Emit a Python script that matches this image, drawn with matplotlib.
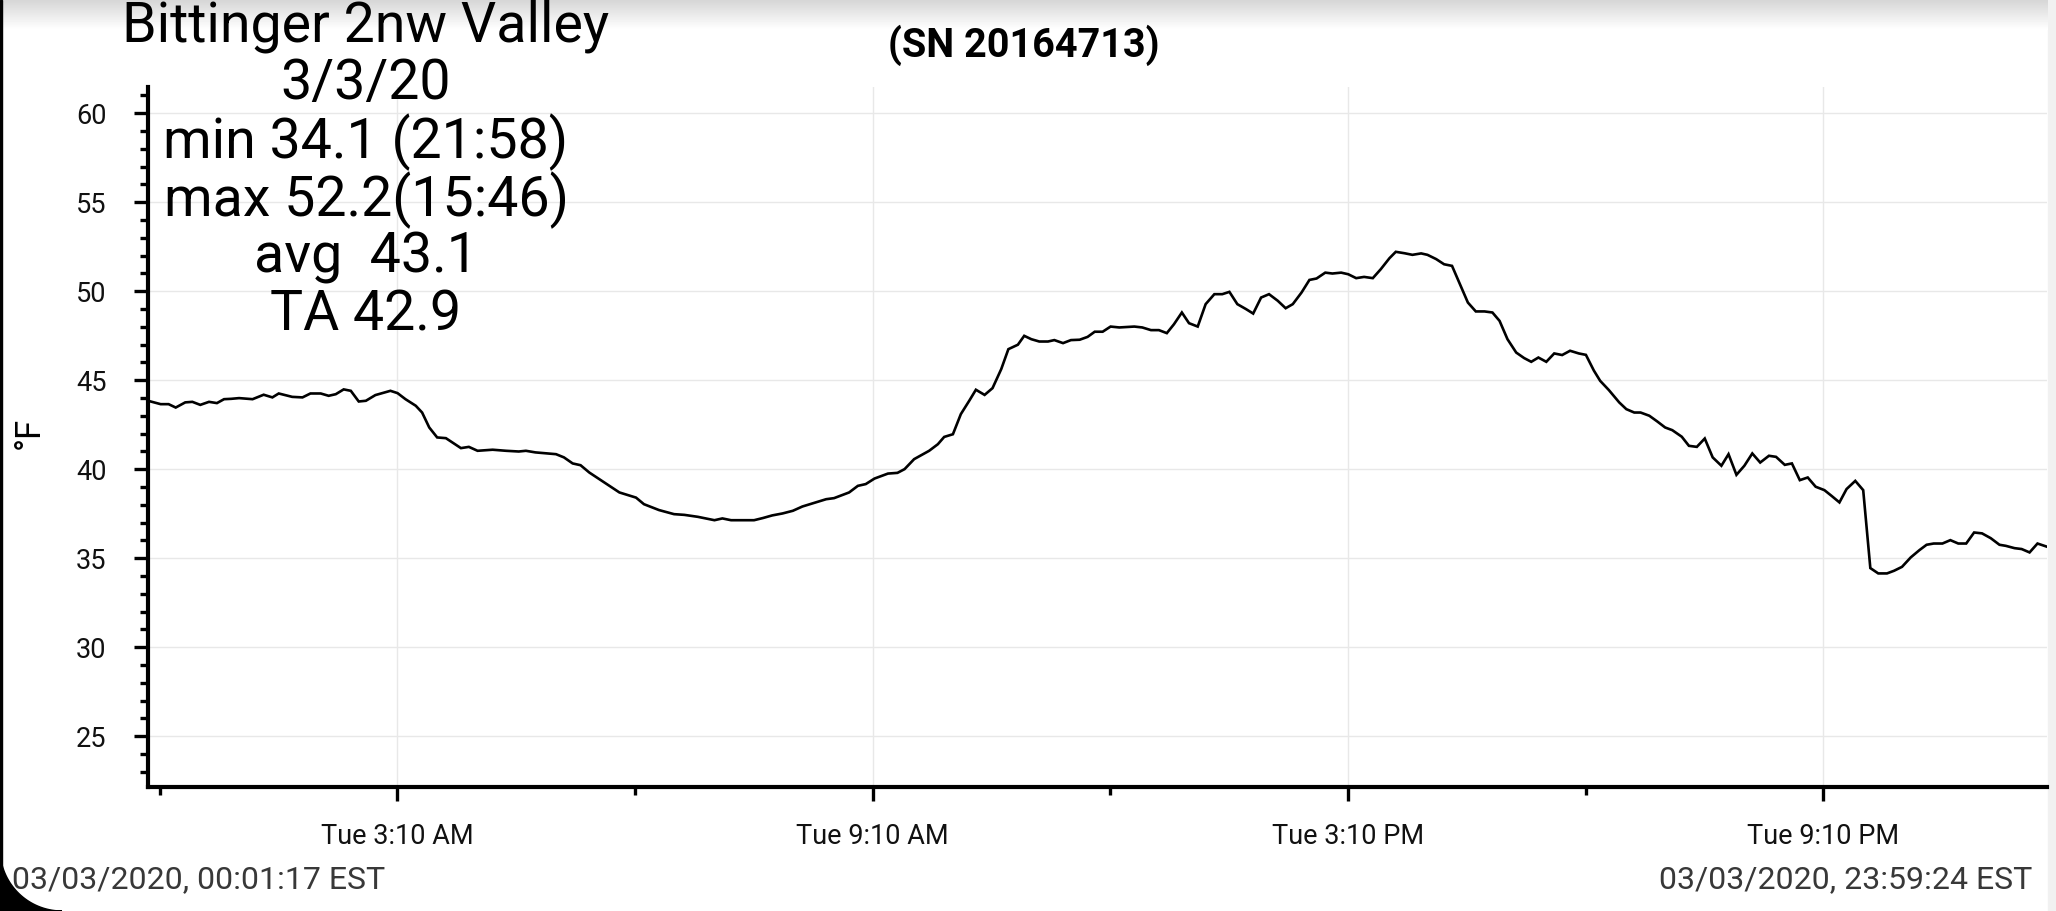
import numpy as np
import matplotlib
matplotlib.use("Agg")
import matplotlib.pyplot as plt
from matplotlib.patches import Rectangle, Polygon
from matplotlib.ticker import MultipleLocator, FixedLocator

plt.rcParams['font.family'] = ['Roboto', 'DejaVu Sans']

# logger readings, hours since midnight 3/3/20 and temperature in F
hours = [0.02, 0.18, 0.28, 0.37, 0.49, 0.58, 0.68, 0.79, 0.89, 0.98,
         1.07, 1.17, 1.34, 1.48, 1.59, 1.67, 1.84, 1.97, 2.07, 2.20,
         2.30, 2.39, 2.49, 2.58, 2.68, 2.77, 2.89, 3.08, 3.17, 3.27,
         3.40, 3.48, 3.57, 3.67, 3.78, 3.97, 4.07, 4.18, 4.37, 4.54,
         4.70, 4.79, 4.91, 5.17, 5.27, 5.38, 5.48, 5.59, 5.76, 5.97,
         6.18, 6.28, 6.47, 6.66, 6.79, 6.96, 7.17, 7.27, 7.38, 7.67,
         7.78, 7.90, 8.03, 8.16, 8.28, 8.45, 8.58, 8.68, 8.87, 8.98,
         9.08, 9.19, 9.36, 9.48, 9.57, 9.69, 9.88, 9.99, 10.07, 10.18,
         10.28, 10.39, 10.47, 10.58, 10.68, 10.79, 10.88, 11.00, 11.08, 11.17,
         11.27, 11.38, 11.46, 11.57, 11.67, 11.78, 11.88, 11.97, 12.07, 12.17,
         12.28, 12.47, 12.57, 12.68, 12.78, 12.88, 12.97, 13.07, 13.16, 13.27,
         13.37, 13.48, 13.58, 13.67, 13.77, 13.88, 13.97, 14.07, 14.17, 14.28,
         14.38, 14.47, 14.58, 14.68, 14.77, 14.88, 14.97, 15.08, 15.17, 15.27,
         15.37, 15.48, 15.58, 15.69, 15.77, 15.88, 15.98, 16.09, 16.17, 16.28,
         16.38, 16.48, 16.57, 16.68, 16.78, 16.89, 16.99, 17.08, 17.18, 17.29,
         17.39, 17.48, 17.57, 17.67, 17.77, 17.87, 17.97, 18.08, 18.17, 18.27,
         18.35, 18.46, 18.59, 18.68, 18.78, 18.86, 18.97, 19.07, 19.17, 19.26,
         19.38, 19.47, 19.57, 19.67, 19.77, 19.88, 19.97, 20.07, 20.17, 20.27,
         20.37, 20.48, 20.57, 20.68, 20.77, 20.87, 20.97, 21.07, 21.18, 21.27,
         21.37, 21.46, 21.57, 21.67, 21.76, 21.86, 21.97, 22.06, 22.16, 22.27,
         22.38, 22.47, 22.56, 22.67, 22.77, 22.87, 22.97, 23.07, 23.17, 23.28,
         23.39, 23.47, 23.58, 23.67, 23.77, 23.87, 23.99]
temps = [43.84, 43.65, 43.65, 43.46, 43.75, 43.78, 43.61, 43.78, 43.71, 43.93,
         43.95, 43.99, 43.93, 44.18, 44.03, 44.25, 44.06, 44.03, 44.25, 44.25,
         44.12, 44.21, 44.48, 44.40, 43.80, 43.84, 44.16, 44.40, 44.27, 43.93,
         43.56, 43.18, 42.34, 41.78, 41.74, 41.18, 41.25, 41.03, 41.09, 41.03,
         40.99, 41.03, 40.94, 40.84, 40.66, 40.32, 40.22, 39.81, 39.31, 38.69,
         38.40, 38.03, 37.70, 37.47, 37.43, 37.32, 37.13, 37.23, 37.13, 37.13,
         37.25, 37.40, 37.51, 37.66, 37.90, 38.13, 38.31, 38.37, 38.69, 39.06,
         39.16, 39.47, 39.75, 39.79, 40.00, 40.56, 41.03, 41.40, 41.81, 41.96,
         43.09, 43.87, 44.46, 44.17, 44.55, 45.62, 46.74, 46.99, 47.49, 47.30,
         47.17, 47.17, 47.25, 47.08, 47.25, 47.27, 47.43, 47.72, 47.72, 48.01,
         47.96, 48.01, 47.96, 47.81, 47.81, 47.64, 48.14, 48.80, 48.20, 48.01,
         49.27, 49.83, 49.83, 49.96, 49.27, 48.99, 48.74, 49.64, 49.83, 49.46,
         49.04, 49.27, 49.92, 50.63, 50.71, 51.04, 50.99, 51.04, 50.95, 50.73,
         50.80, 50.73, 51.23, 51.85, 52.21, 52.13, 52.04, 52.12, 52.04, 51.80,
         51.51, 51.42, 50.49, 49.36, 48.86, 48.86, 48.80, 48.33, 47.30, 46.55,
         46.24, 46.03, 46.27, 46.03, 46.50, 46.41, 46.65, 46.50, 46.42, 45.54,
         44.96, 44.44, 43.75, 43.37, 43.18, 43.18, 43.00, 42.68, 42.34, 42.19,
         41.82, 41.31, 41.25, 41.72, 40.66, 40.19, 40.84, 39.68, 40.19, 40.88,
         40.37, 40.75, 40.69, 40.24, 40.32, 39.38, 39.53, 39.01, 38.82, 38.50,
         38.13, 38.88, 39.34, 38.82, 34.44, 34.14, 34.14, 34.29, 34.51, 35.04,
         35.45, 35.75, 35.82, 35.82, 36.01, 35.82, 35.82, 36.44, 36.39, 36.12,
         35.75, 35.69, 35.56, 35.51, 35.32, 35.82, 35.64]

info_lines = ["Bittinger 2nw Valley", "3/3/20", "min 34.1 (21:58)",
              "max 52.2(15:46)", "avg  43.1", "TA 42.9"]
serial = "(SN 20164713)"
start_label = "03/03/2020, 00:01:17 EST"
end_label = "03/03/2020, 23:59:24 EST"
xtick_hours = [3 + 10 / 60, 9 + 10 / 60, 15 + 10 / 60, 21 + 10 / 60]
xtick_labels = ["Tue 3:10 AM", "Tue 9:10 AM", "Tue 3:10 PM", "Tue 9:10 PM"]
xminor_hours = [10 / 60, 6 + 10 / 60, 12 + 10 / 60, 18 + 10 / 60]
yticks = [25, 30, 35, 40, 45, 50, 55, 60]

W, H = 2056, 911
fig = plt.figure(figsize=(W / 100, H / 100), dpi=100)
ax = fig.add_axes([148 / W, 1 - 787 / H, (2047 - 148) / W, (787 - 87) / H])

ax.plot(hours, temps, color='black', lw=1.9, solid_joinstyle='miter')

ax.set_xlim(hours[0], hours[-1])
ax.set_ylim(22.14, 61.47)

ax.xaxis.set_major_locator(FixedLocator(xtick_hours))
ax.xaxis.set_minor_locator(FixedLocator(xminor_hours))
ax.set_xticklabels(xtick_labels)
ax.yaxis.set_major_locator(FixedLocator(yticks))
ax.yaxis.set_minor_locator(MultipleLocator(1))

for side in ['top', 'right']:
    ax.spines[side].set_visible(False)
for side in ['left', 'bottom']:
    ax.spines[side].set_linewidth(3)

ax.tick_params(axis='both', which='major', direction='out', length=10,
               width=2.4, labelsize=19.5, labelcolor='#111111')
ax.tick_params(axis='both', which='minor', direction='out', length=6, width=2.4)
ax.tick_params(axis='y', which='major', pad=20)
ax.tick_params(axis='x', which='major', pad=16)

ax.grid(True, which='major', color='#e8e8e8', lw=1)
ax.set_axisbelow(True)

# y axis unit, placed as figure text so it is not clipped
fig.text(29 / W, 1 - 433 / H, '°F', rotation=90, ha='center', va='center',
         fontsize=25, color='black')

# header block on the left
line_y = [26, 84, 142, 200, 258, 315]
for txt, yy in zip(info_lines, line_y):
    fig.text(366 / W, 1 - yy / H, txt, ha='center', va='center',
             fontsize=40, color='black')

fig.text(1024 / W, 1 - 45 / H, serial, ha='center', va='center',
         fontsize=28.5, fontweight='bold', color='black')

fig.text(12 / W, 1 - 880 / H, start_label, ha='left', va='center',
         fontsize=23, color='#383838')
fig.text(2032 / W, 1 - 880 / H, end_label, ha='right', va='center',
         fontsize=23, color='#383838')

# screenshot frame: grey shade on top, strip on right, black rounded corner
grad_ax = fig.add_axes([0, 1 - 30 / H, 2048 / W, 30 / H], zorder=-1)
grad = np.linspace(0.84, 1.0, 30).reshape(-1, 1)
grad_ax.imshow(grad, cmap='gray', vmin=0, vmax=1, aspect='auto')
grad_ax.axis('off')

fig.add_artist(Rectangle((2048 / W, 0), 8 / W, 1, transform=fig.transFigure,
                         color='#f1f1f1', zorder=-2))
fig.add_artist(Rectangle((0, 0), 2 / W, 1, transform=fig.transFigure,
                         color='black', zorder=5))
theta = np.linspace(np.pi, 1.5 * np.pi, 40)
r = 0.62
corner = [(0, 0)] + [(r + r * np.cos(t), r + r * np.sin(t)) for t in theta]
fig.add_artist(Polygon(corner, closed=True, transform=fig.dpi_scale_trans,
                       color='black', zorder=5))

fig.savefig('out.png', dpi=100)
